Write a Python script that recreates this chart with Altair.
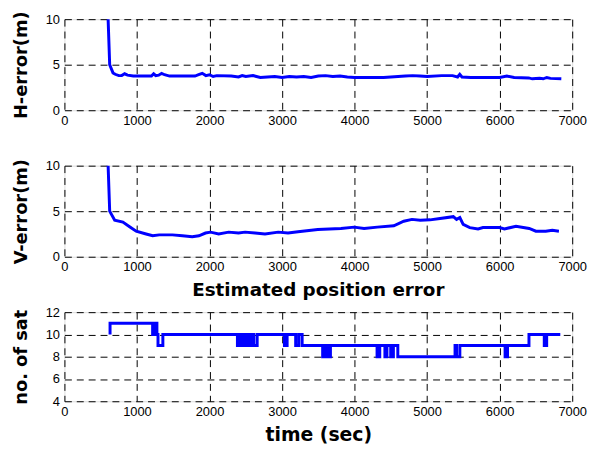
import altair as alt
import pandas as pd

# H-error (m)
h_t = [585, 624, 670, 700, 750, 790, 830, 870, 950, 1200, 1230, 1260, 1300, 1340, 1380, 1450,
       1800, 1850, 1900, 1950, 2000, 2050, 2100, 2300, 2400, 2450, 2500, 2600, 2700, 2800, 2900,
       3000, 3100, 3200, 3300, 3400, 3500, 3600, 3700, 3800, 3900, 4000, 4200, 4400, 4600, 4700,
       4800, 4900, 5000, 5200, 5350, 5420, 5450, 5480, 5600, 6000, 6100, 6200, 6400, 6450, 6550,
       6600, 6650, 6700, 6850]
h_v = [14.0, 5.0, 4.1, 3.95, 3.8, 3.8, 4.0, 3.85, 3.75, 3.75, 4.0, 3.8, 3.85, 4.05, 3.9, 3.75,
       3.75, 3.9, 4.05, 3.8, 3.9, 3.7, 3.8, 3.75, 3.65, 3.8, 3.7, 3.8, 3.6, 3.65, 3.7,
       3.6, 3.7, 3.65, 3.7, 3.6, 3.75, 3.8, 3.7, 3.75, 3.65, 3.6, 3.6, 3.6, 3.7, 3.75,
       3.8, 3.75, 3.7, 3.8, 3.8, 3.65, 3.95, 3.65, 3.6, 3.6, 3.75, 3.6, 3.55, 3.45, 3.5,
       3.45, 3.6, 3.5, 3.45]

# V-error (m)
v_t = [585, 624, 693, 806, 898, 989, 1126, 1216, 1307, 1489, 1626, 1762, 1854, 1945, 2014, 2127,
       2264, 2400, 2491, 2628, 2765, 2947, 3083, 3220, 3493, 3812, 3995, 4131, 4313, 4541, 4678,
       4791, 4905, 5041, 5178, 5361, 5406, 5451, 5497, 5588, 5702, 5770, 5997, 6066, 6225, 6407,
       6499, 6635, 6726, 6817]
v_v = [14.0, 5.0, 4.0, 3.8, 3.3, 2.8, 2.5, 2.3, 2.4, 2.4, 2.3, 2.2, 2.3, 2.6, 2.7, 2.5,
       2.7, 2.6, 2.7, 2.6, 2.5, 2.7, 2.6, 2.75, 3.0, 3.1, 3.25, 3.1, 3.25, 3.4, 3.9,
       4.1, 4.0, 4.05, 4.2, 4.4, 4.1, 4.3, 3.55, 3.2, 3.05, 3.2, 3.2, 3.05, 3.35, 3.1,
       2.8, 2.8, 2.9, 2.8]

# number of satellites (step)
s_t = [629, 629, 1216, 1235, 1250, 1262, 1275, 1290, 1357, 2385, 2408, 2440, 2460, 2480, 2500,
       2520, 2540, 2565, 2590, 2610, 2657, 3033, 3070, 3188, 3230, 3277, 3560, 3580, 3600, 3620,
       3640, 3667, 4310, 4347, 4418, 4446, 4498, 4535, 4596, 5385, 5405, 5451, 6075, 6108, 6404,
       6615, 6648, 6836]
s_v = [10, 11, 10, 11, 10, 11, 10, 9, 10, 9, 10, 9, 10, 9, 10,
       9, 10, 9, 10, 9, 10, 9, 10, 9, 10, 9, 8, 9, 8, 9,
       8, 9, 8, 9, 8, 9, 8, 9, 8, 9, 8, 9, 8, 9, 10,
       9, 10, 10]

x_ticks = [0, 1000, 2000, 3000, 4000, 5000, 6000, 7000]

LABEL_FONT = "Liberation Sans"
TITLE_FONT = "DejaVu Sans"
BLUE = "#0000ff"


def panel(t, v, ytitle, ydomain, yticks, height, interp="linear", xtitle=None, title=None):
    df = pd.DataFrame({"t": t, "v": v})
    common = dict(grid=True, gridDash=[7, 5], gridColor="black", gridWidth=1,
                  gridOpacity=1, domain=False, ticks=False, labelFont=LABEL_FONT,
                  labelFontSize=13, labelColor="black", labelFlush=False,
                  titleFont=TITLE_FONT, titleFontWeight="bold", titleColor="black")
    xax = alt.Axis(values=x_ticks, format="d", labelPadding=4, title=xtitle,
                   titleFontSize=19, titlePadding=8, **common)
    yax = alt.Axis(values=yticks, format="d", labelPadding=5, title=ytitle,
                   titleFontSize=18, titlePadding=15, **common)
    ch = alt.Chart(df).mark_line(color=BLUE, strokeWidth=3, clip=True, interpolate=interp).encode(
        x=alt.X("t:Q", scale=alt.Scale(domain=[0, 7000], nice=False), axis=xax),
        y=alt.Y("v:Q", scale=alt.Scale(domain=ydomain, nice=False), axis=yax),
    )
    props = dict(width=513, height=height)
    if title:
        props["title"] = alt.TitleParams(title, font=TITLE_FONT, fontSize=18.5, fontWeight="bold",
                                         color="black", offset=7)
    return ch.properties(**props)


p1 = panel(h_t, h_v, "H-error(m)", [0, 10], [0, 5, 10], 92)
p2 = panel(v_t, v_v, "V-error(m)", [0, 10], [0, 5, 10], 92)
p3 = panel(s_t, s_v, "no. of sat", [4, 12], [4, 6, 8, 10, 12], 90, interp="step-after",
           xtitle="time (sec)", title="Estimated position error")

chart = alt.vconcat(p1, p2, p3, spacing=56, bounds="flush").properties(
    padding={"left": 4, "top": 0, "right": 5, "bottom": 5}
).configure_view(stroke="black", strokeWidth=1).configure(background="white")

chart.save("out.html", embed_options={"renderer": "svg", "actions": False})
